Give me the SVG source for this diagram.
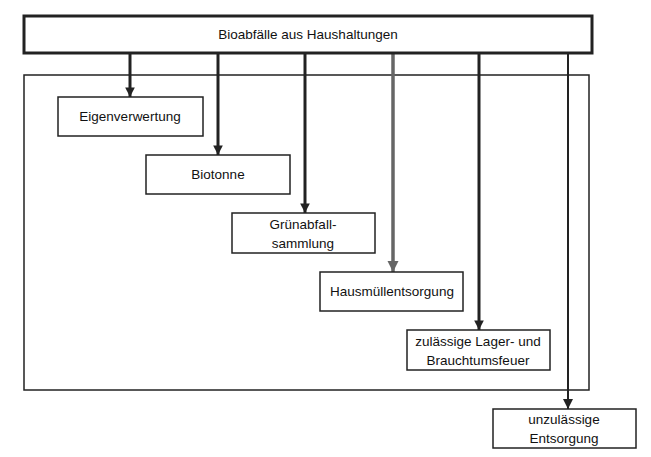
<svg xmlns="http://www.w3.org/2000/svg" width="651" height="457" viewBox="0 0 651 457">
<style>
.b{fill:#fff;stroke:#222;stroke-width:1.5}
.t{font-family:"Liberation Sans",Arial,sans-serif;font-size:13.5px;fill:#111;text-anchor:middle}
.c{stroke:#222;stroke-width:3;fill:none}
</style>
<defs>
<marker id="a" viewBox="0 0 10 10" refX="10" refY="5" markerWidth="3.2" markerHeight="4.5" orient="auto" markerUnits="strokeWidth"><path d="M0,0L10,5L0,10z" fill="#222"/></marker>
<marker id="g" viewBox="0 0 10 10" refX="10" refY="5" markerWidth="3.2" markerHeight="4.5" orient="auto" markerUnits="strokeWidth"><path d="M0,0L10,5L0,10z" fill="#666"/></marker>
<marker id="s" viewBox="0 0 10 10" refX="10" refY="5" markerWidth="5" markerHeight="7" orient="auto" markerUnits="strokeWidth"><path d="M0,0L10,5L0,10z" fill="#222"/></marker>
</defs>
<rect x="24" y="75" width="565" height="315" fill="none" stroke="#222" stroke-width="1.5"/>
<g id="connectors">
<line class="c" x1="130" y1="53" x2="130" y2="97" marker-end="url(#a)"/>
<line class="c" x1="218" y1="53" x2="218" y2="155" marker-end="url(#a)"/>
<line class="c" x1="305" y1="53" x2="305" y2="213" marker-end="url(#a)"/>
<line class="c" x1="393" y1="53" x2="393" y2="272" style="stroke:#666;stroke-width:3.5" marker-end="url(#g)"/>
<line class="c" x1="479" y1="53" x2="479" y2="330" marker-end="url(#a)"/>
<line class="c" x1="568" y1="53" x2="568" y2="409" style="stroke-width:2" marker-end="url(#s)"/>
</g>
<g id="top"><rect class="b" x="24" y="16" width="568" height="37" style="stroke-width:3"/><text class="t" x="308" y="39">Bioabfälle aus Haushaltungen</text></g>
<g id="n1"><rect class="b" x="58" y="97" width="145" height="39"/><text class="t" x="130" y="121">Eigenverwertung</text></g>
<g id="n2"><rect class="b" x="146" y="155" width="144" height="39"/><text class="t" x="218" y="179">Biotonne</text></g>
<g id="n3"><rect class="b" x="232" y="213" width="143" height="40"/><text class="t" x="303" y="229">Grünabfall-</text><text class="t" x="303" y="248">sammlung</text></g>
<g id="n4"><rect class="b" x="320" y="272" width="143" height="39"/><text class="t" x="392" y="296">Hausmüllentsorgung</text></g>
<g id="n5"><rect class="b" x="407" y="330" width="143" height="40"/><text class="t" x="478" y="346">zulässige Lager- und</text><text class="t" x="478" y="365">Brauchtumsfeuer</text></g>
<g id="n6"><rect class="b" x="493" y="409" width="143" height="39"/><text class="t" x="564" y="424">unzulässige</text><text class="t" x="564" y="443">Entsorgung</text></g>
</svg>
